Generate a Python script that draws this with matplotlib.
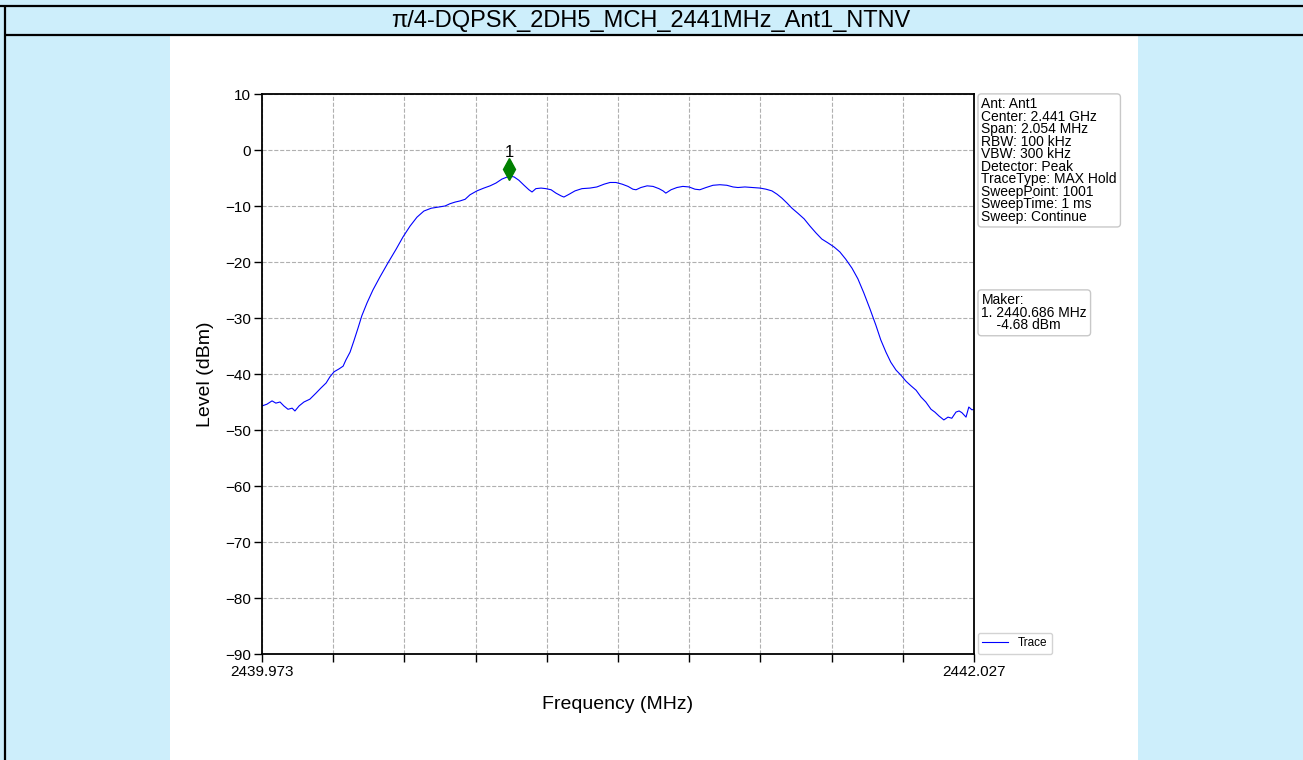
import matplotlib
matplotlib.use('Agg')
import numpy as np
import matplotlib.pyplot as plt
from matplotlib.patches import Rectangle

plt.rcParams['font.family'] = ['Liberation Sans', 'DejaVu Sans']

# ---------------- data ----------------
title = "π/4-DQPSK_2DH5_MCH_2441MHz_Ant1_NTNV"
freq_start, freq_stop = 2439.973, 2442.027

freq_mhz = [
    2439.973, 2439.987, 2440.002, 2440.013, 2440.025, 2440.036, 2440.048, 2440.060,
    2440.068, 2440.080, 2440.094, 2440.111, 2440.129, 2440.143, 2440.158, 2440.169,
    2440.181, 2440.195, 2440.207, 2440.215, 2440.227, 2440.238, 2440.250, 2440.261,
    2440.276, 2440.293, 2440.313, 2440.336, 2440.360, 2440.380, 2440.400, 2440.420,
    2440.440, 2440.461, 2440.481, 2440.501, 2440.515, 2440.530, 2440.544, 2440.559,
    2440.573, 2440.593, 2440.613, 2440.631, 2440.648, 2440.665, 2440.686, 2440.700,
    2440.714, 2440.729, 2440.743, 2440.752, 2440.763, 2440.778, 2440.792, 2440.807,
    2440.821, 2440.836, 2440.844, 2440.859, 2440.876, 2440.896, 2440.919, 2440.939,
    2440.960, 2440.977, 2440.994, 2441.012, 2441.029, 2441.043, 2441.052, 2441.066,
    2441.084, 2441.101, 2441.118, 2441.130, 2441.138, 2441.153, 2441.170, 2441.187,
    2441.205, 2441.222, 2441.236, 2441.254, 2441.274, 2441.294, 2441.314, 2441.332,
    2441.346, 2441.366, 2441.387, 2441.410, 2441.427, 2441.444, 2441.459, 2441.473,
    2441.488, 2441.502, 2441.519, 2441.537, 2441.554, 2441.571, 2441.588, 2441.606,
    2441.623, 2441.640, 2441.657, 2441.675, 2441.692, 2441.709, 2441.727, 2441.744,
    2441.758, 2441.773, 2441.787, 2441.802, 2441.816, 2441.831, 2441.845, 2441.860,
    2441.874, 2441.888, 2441.903, 2441.914, 2441.926, 2441.940, 2441.952, 2441.963,
    2441.975, 2441.984, 2441.992, 2442.004, 2442.012, 2442.021, 2442.027,
]
level_dbm = [
    -45.7, -45.4, -44.8, -45.2, -45.0, -45.7, -46.3, -46.1,
    -46.6, -45.7, -45.0, -44.5, -43.4, -42.5, -41.6, -40.5,
    -39.6, -39.1, -38.6, -37.5, -36.1, -34.1, -31.8, -29.6,
    -27.3, -25.0, -22.7, -20.2, -17.7, -15.5, -13.6, -12.0,
    -10.9, -10.4, -10.2, -10.0, -9.6, -9.3, -9.1, -8.8,
    -8.0, -7.3, -6.8, -6.4, -5.9, -5.2, -4.68, -4.8,
    -5.4, -6.3, -7.1, -7.5, -6.9, -6.8, -6.9, -7.1,
    -7.7, -8.2, -8.4, -7.9, -7.3, -6.9, -6.8, -6.6,
    -6.1, -5.8, -5.8, -6.1, -6.5, -7.0, -7.1, -6.7,
    -6.4, -6.5, -6.9, -7.3, -7.7, -7.1, -6.7, -6.5,
    -6.6, -7.0, -7.1, -6.7, -6.3, -6.2, -6.3, -6.6,
    -6.7, -6.6, -6.7, -6.8, -7.0, -7.3, -7.9, -8.6,
    -9.5, -10.4, -11.3, -12.3, -13.6, -14.8, -15.9, -16.6,
    -17.3, -18.2, -19.5, -21.1, -23.0, -25.5, -28.4, -31.3,
    -33.9, -36.1, -37.9, -39.3, -40.2, -41.3, -42.1, -42.9,
    -44.1, -45.0, -46.3, -46.8, -47.5, -48.2, -47.7, -47.9,
    -46.8, -46.6, -46.9, -47.7, -45.9, -46.4, -46.3,
]

marker_freq = 2440.686
marker_level = -4.68
marker_label = "1"

y_min, y_max = -90, 10
y_ticks = list(range(-90, 11, 10))
x_tick_labels = ["2439.973", "", "", "", "", "", "", "", "", "", "2442.027"]

info_lines = ["Ant: Ant1", "Center: 2.441 GHz", "Span: 2.054 MHz", "RBW: 100 kHz",
              "VBW: 300 kHz", "Detector: Peak", "TraceType: MAX Hold",
              "SweepPoint: 1001", "SweepTime: 1 ms", "Sweep: Continue"]
maker_lines = ["Maker:", "1. 2440.686 MHz", "    -4.68 dBm"]

# ---------------- figure ----------------
W, H = 1303, 760
fig = plt.figure(figsize=(W / 100, H / 100), dpi=100)
fig.patch.set_facecolor('#cdeefb')

bg = fig.add_axes([0, 0, 1, 1], zorder=0)
bg.set_xlim(0, W)
bg.set_ylim(H, 0)
bg.axis('off')
bg.add_patch(Rectangle((170, 36), 968, 730, fc='white', ec='none'))
bg.plot([0, W], [6, 6], color='black', lw=1.6, solid_capstyle='butt')
bg.plot([4, W], [34.5, 34.5], color='black', lw=1.6, solid_capstyle='butt')
bg.plot([4.5, 4.5], [6, H], color='black', lw=1.6, solid_capstyle='butt')
bg.text(651, 20.5, title, ha='center', va='center', fontsize=17, color='black')

ax = fig.add_axes([262 / W, 1 - 654 / H, 712 / W, 560 / H], zorder=2)
ax.plot(freq_mhz, level_dbm, color='blue', lw=0.8, label='Trace')
ax.plot([marker_freq], [marker_level + 1.25], marker='d', color='green',
        markersize=11, linestyle='none')
ax.text(marker_freq, marker_level + 2.9, marker_label, ha='center', va='bottom',
        fontsize=12)

ax.set_xlim(freq_start, freq_stop)
ax.set_ylim(y_min, y_max)
ax.set_xticks(np.linspace(freq_start, freq_stop, len(x_tick_labels)))
ax.set_xticklabels(x_tick_labels)
ax.set_yticks(y_ticks)
ax.tick_params(axis='both', labelsize=11, length=5.5, width=1, direction='out',
               pad=2.5)
ax.grid(True, linestyle='--', color='#b0b0b0', lw=0.8)
for s in ax.spines.values():
    s.set_linewidth(1.3)
ax.set_xlabel("Frequency (MHz)", fontsize=14, labelpad=12)
ax.set_ylabel("Level (dBm)", fontsize=14, labelpad=8)

box = dict(boxstyle='round,pad=0.25', fc='white', ec='#c8c8c8', lw=1)
ax.text(1.0105, 0.994, "\n".join(info_lines), transform=ax.transAxes, ha='left',
        va='top', fontsize=10, linespacing=0.86, bbox=box)
ax.text(1.0105, 0.644, "\n".join(maker_lines), transform=ax.transAxes, ha='left',
        va='top', fontsize=10, linespacing=0.86, bbox=box)

leg = ax.legend(loc='lower left', bbox_to_anchor=(1.005, 0.0), fontsize=8.5,
                borderaxespad=0, frameon=True, fancybox=True, handlelength=2.2)
leg.get_frame().set_edgecolor('#c8c8c8')

fig.savefig('out.png', dpi=100, facecolor=fig.get_facecolor())
